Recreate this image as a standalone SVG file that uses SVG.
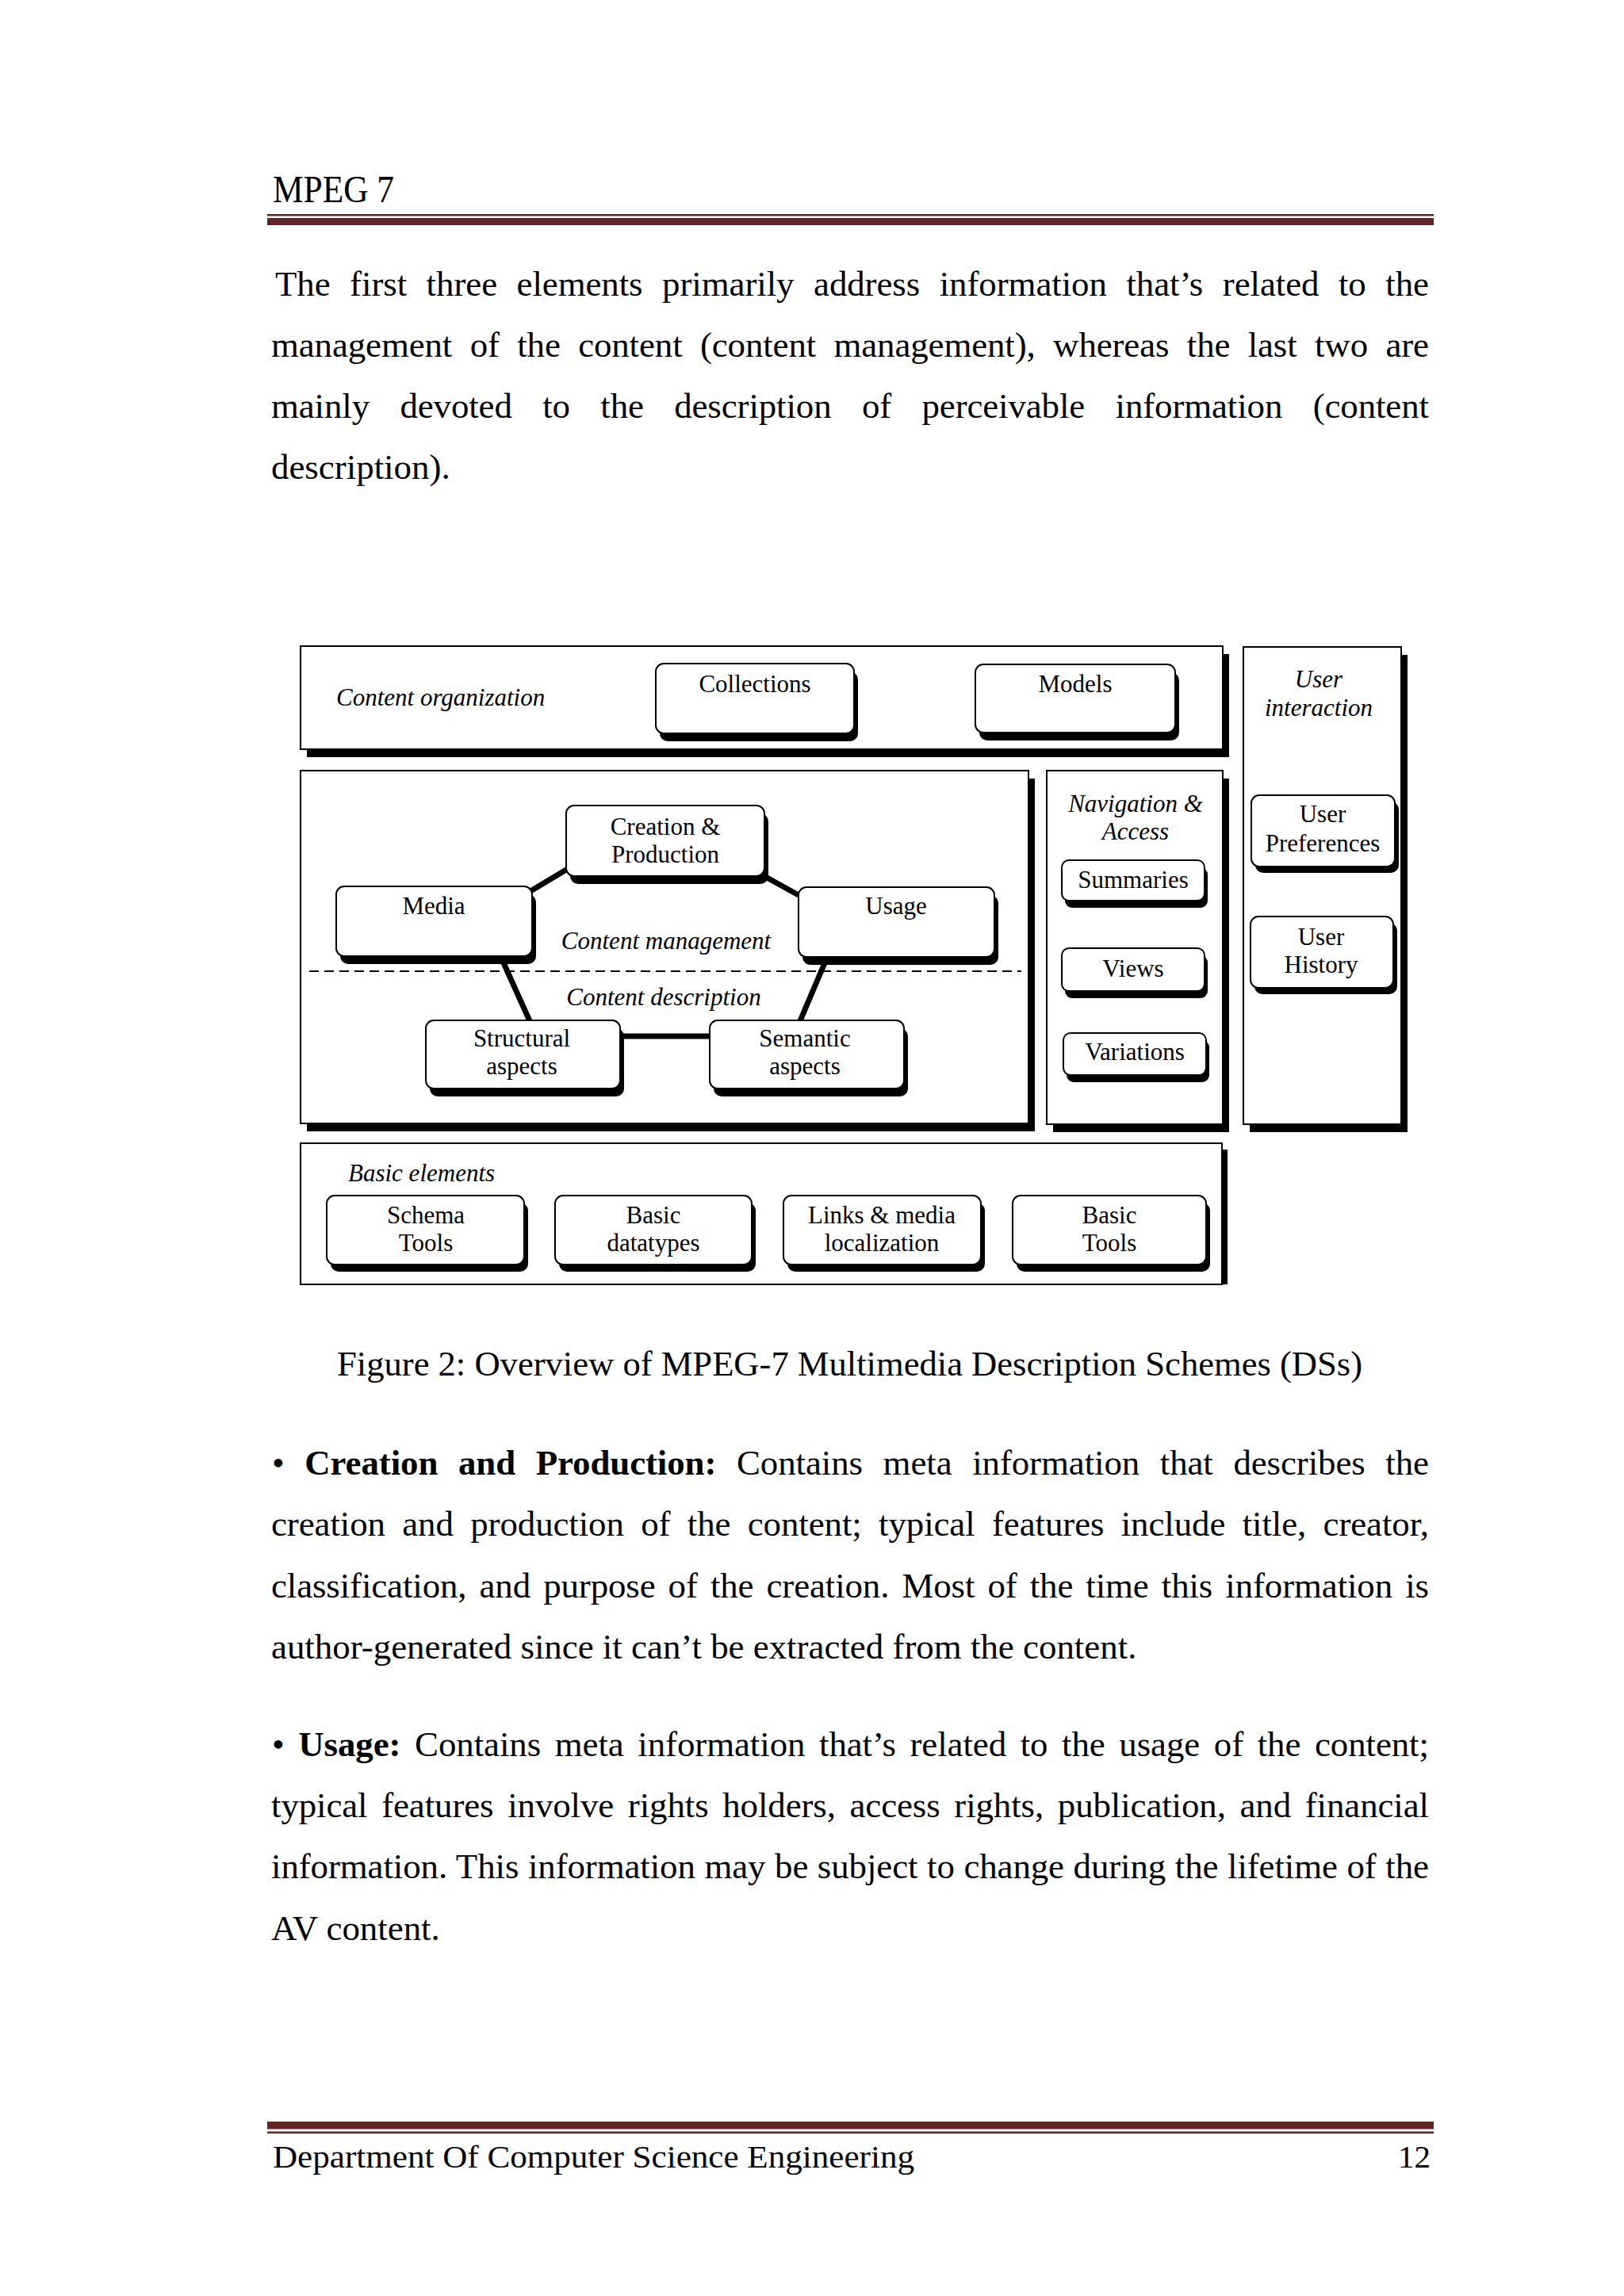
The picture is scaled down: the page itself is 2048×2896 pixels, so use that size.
<svg xmlns="http://www.w3.org/2000/svg" width="2048" height="2896" viewBox="0 0 2048 2896">
<style>
.body{font-family:"Liberation Serif","Times New Roman",serif;font-size:44.9px;fill:#000}
.cap{font-size:44.6px}
.b{font-weight:bold}
.hf{font-family:"Liberation Serif","Times New Roman",serif;fill:#000}
.lbl{font-family:"Liberation Serif","Times New Roman",serif;font-size:31px;text-anchor:middle;fill:#000}
.it{font-family:"Liberation Serif","Times New Roman",serif;font-size:31px;font-style:italic;fill:#000}
.itc{text-anchor:middle}
.panel{fill:#fff;stroke:#000;stroke-width:2}
.sh{fill:#000}
.node{fill:#fff;stroke:#000;stroke-width:2}
.conn{stroke:#000;stroke-width:7;fill:none}
.dash{stroke:#000;stroke-width:2;stroke-dasharray:12 7;fill:none}
.rule{fill:#632523}
</style>
<rect width="2048" height="2896" fill="#fff"/>

<!-- header -->
<g id="header">
<text class="hf" x="344" y="255" font-size="48" textLength="153" lengthAdjust="spacingAndGlyphs">MPEG 7</text>
<rect class="rule" x="337" y="270" width="1471" height="2.5"/>
<rect class="rule" x="337" y="275" width="1471" height="9"/>
</g>

<!-- intro paragraph -->
<g id="intro">
<text class="body" x="347" y="373" word-spacing="13.4" textLength="1455" lengthAdjust="spacing">The first three elements primarily address information that’s related to the</text>
<text class="body" x="342" y="450" word-spacing="11.3" textLength="1460" lengthAdjust="spacing">management of the content (content management), whereas the last two are</text>
<text class="body" x="342" y="527" word-spacing="27.3" textLength="1460" lengthAdjust="spacing">mainly devoted to the description of perceivable information (content</text>
<text class="body" x="342" y="604">description).</text>
</g>

<!-- diagram panels -->
<g id="panel-content-organization">
<rect class="sh" x="387" y="825" width="1163" height="130"/>
<rect class="panel" x="379" y="815" width="1163" height="130"/>
<text class="it" x="424" y="890">Content organization</text>
</g>
<g id="panel-content-management">
<rect class="sh" x="387" y="982" width="918" height="445"/>
<rect class="panel" x="379" y="972" width="918" height="445"/>
</g>
<g id="panel-navigation">
<rect class="sh" x="1328" y="982" width="222" height="446"/>
<rect class="panel" x="1320" y="972" width="222" height="446"/>
<text class="it itc" x="1432" y="1024">Navigation &amp;</text>
<text class="it itc" x="1432" y="1059">Access</text>
</g>
<g id="panel-user-interaction">
<rect class="sh" x="1576" y="826" width="199" height="602"/>
<rect class="panel" x="1568" y="816" width="199" height="602"/>
<text class="it itc" x="1663" y="867">User</text>
<text class="it itc" x="1663" y="903">interaction</text>
</g>
<g id="panel-basic-elements">
<rect class="sh" x="1541" y="1450" width="7" height="170"/>
<rect class="panel" x="379" y="1442" width="1162" height="178"/>
<text class="it" x="439" y="1490">Basic elements</text>
</g>

<!-- connectors -->
<g id="connectors">
<line class="conn" x1="719" y1="1094" x2="669" y2="1124"/>
<line class="conn" x1="960" y1="1103" x2="1007" y2="1129"/>
<line class="conn" x1="633" y1="1210" x2="669" y2="1290"/>
<line class="conn" x1="1042" y1="1210" x2="1008" y2="1290"/>
<line class="conn" x1="780" y1="1307" x2="897" y2="1307"/>
<line class="dash" x1="390" y1="1225" x2="1288" y2="1225"/>
</g>
<g id="section-labels">
<text class="it itc" x="840" y="1197">Content management</text>
<text class="it itc" x="837" y="1268">Content description</text>
</g>

<!-- nodes -->
<g id="node-collections">
<rect class="sh" x="832" y="847" width="250" height="88" rx="10"/>
<rect class="node" x="827" y="837" width="250" height="88" rx="10"/>
<text class="lbl" x="952" y="873">Collections</text>
</g>
<g id="node-models">
<rect class="sh" x="1235" y="848" width="252" height="86" rx="10"/>
<rect class="node" x="1230" y="838" width="252" height="86" rx="10"/>
<text class="lbl" x="1356" y="873">Models</text>
</g>
<g id="node-creation">
<rect class="sh" x="719" y="1026" width="250" height="89" rx="10"/>
<rect class="node" x="714" y="1016" width="250" height="89" rx="10"/>
<text class="lbl" x="839" y="1053">Creation &amp;</text>
<text class="lbl" x="839" y="1088">Production</text>
</g>
<g id="node-media">
<rect class="sh" x="429" y="1128" width="247" height="88" rx="10"/>
<rect class="node" x="424" y="1118" width="247" height="88" rx="10"/>
<text class="lbl" x="547" y="1153">Media</text>
</g>
<g id="node-usage">
<rect class="sh" x="1012" y="1129" width="247" height="88" rx="10"/>
<rect class="node" x="1007" y="1119" width="247" height="88" rx="10"/>
<text class="lbl" x="1130" y="1153">Usage</text>
</g>
<g id="node-structural">
<rect class="sh" x="542" y="1297" width="245" height="86" rx="10"/>
<rect class="node" x="537" y="1287" width="245" height="86" rx="10"/>
<text class="lbl" x="658" y="1320">Structural</text>
<text class="lbl" x="658" y="1355">aspects</text>
</g>
<g id="node-semantic">
<rect class="sh" x="900" y="1297" width="245" height="86" rx="10"/>
<rect class="node" x="895" y="1287" width="245" height="86" rx="10"/>
<text class="lbl" x="1015" y="1320">Semantic</text>
<text class="lbl" x="1015" y="1355">aspects</text>
</g>
<g id="node-summaries">
<rect class="sh" x="1343" y="1094" width="180" height="51" rx="9"/>
<rect class="node" x="1339" y="1085" width="180" height="51" rx="9"/>
<text class="lbl" x="1429" y="1120">Summaries</text>
</g>
<g id="node-views">
<rect class="sh" x="1343" y="1205" width="180" height="54" rx="9"/>
<rect class="node" x="1339" y="1196" width="180" height="54" rx="9"/>
<text class="lbl" x="1429" y="1232">Views</text>
</g>
<g id="node-variations">
<rect class="sh" x="1345" y="1312" width="180" height="53" rx="9"/>
<rect class="node" x="1341" y="1303" width="180" height="53" rx="9"/>
<text class="lbl" x="1431" y="1337">Variations</text>
</g>
<g id="node-user-preferences">
<rect class="sh" x="1583" y="1011" width="181" height="90" rx="10"/>
<rect class="node" x="1578" y="1003" width="181" height="90" rx="10"/>
<text class="lbl" x="1668" y="1037">User</text>
<text class="lbl" x="1668" y="1074">Preferences</text>
</g>
<g id="node-user-history">
<rect class="sh" x="1582" y="1164" width="180" height="90" rx="10"/>
<rect class="node" x="1577" y="1156" width="180" height="90" rx="10"/>
<text class="lbl" x="1666" y="1192">User</text>
<text class="lbl" x="1666" y="1227">History</text>
</g>
<g id="node-schema-tools">
<rect class="sh" x="417" y="1517" width="249" height="87" rx="10"/>
<rect class="node" x="412" y="1508" width="249" height="87" rx="10"/>
<text class="lbl" x="537" y="1543">Schema</text>
<text class="lbl" x="537" y="1578">Tools</text>
</g>
<g id="node-basic-datatypes">
<rect class="sh" x="705" y="1517" width="248" height="87" rx="10"/>
<rect class="node" x="700" y="1508" width="248" height="87" rx="10"/>
<text class="lbl" x="824" y="1543">Basic</text>
<text class="lbl" x="824" y="1578">datatypes</text>
</g>
<g id="node-links-media">
<rect class="sh" x="993" y="1517" width="249" height="87" rx="10"/>
<rect class="node" x="988" y="1508" width="249" height="87" rx="10"/>
<text class="lbl" x="1112" y="1543">Links &amp; media</text>
<text class="lbl" x="1112" y="1578">localization</text>
</g>
<g id="node-basic-tools">
<rect class="sh" x="1282" y="1517" width="244" height="87" rx="10"/>
<rect class="node" x="1277" y="1508" width="244" height="87" rx="10"/>
<text class="lbl" x="1399" y="1543">Basic</text>
<text class="lbl" x="1399" y="1578">Tools</text>
</g>

<!-- caption -->
<g id="caption">
<text class="body cap" x="425" y="1735">Figure 2: Overview of MPEG-7 Multimedia Description Schemes (DSs)</text>
</g>

<!-- bullet 1 -->
<g id="bullet-creation">
<text class="body" x="343" y="1860" word-spacing="14.5" textLength="1459" lengthAdjust="spacing">• <tspan class="b">Creation and Production:</tspan> Contains meta information that describes the</text>
<text class="body" x="342" y="1937" word-spacing="10.2" textLength="1460" lengthAdjust="spacing">creation and production of the content; typical features include title, creator,</text>
<text class="body" x="342" y="2015" word-spacing="5.0" textLength="1460" lengthAdjust="spacing">classification, and purpose of the creation. Most of the time this information is</text>
<text class="body" x="342" y="2092">author-generated since it can’t be extracted from the content.</text>
</g>

<!-- bullet 2 -->
<g id="bullet-usage">
<text class="body" x="343" y="2215" word-spacing="6.5" textLength="1459" lengthAdjust="spacing">• <tspan class="b">Usage:</tspan> Contains meta information that’s related to the usage of the content;</text>
<text class="body" x="342" y="2292" word-spacing="6.6" textLength="1460" lengthAdjust="spacing">typical features involve rights holders, access rights, publication, and financial</text>
<text class="body" x="342" y="2369" word-spacing="0.5" textLength="1460" lengthAdjust="spacing">information. This information may be subject to change during the lifetime of the</text>
<text class="body" x="342" y="2447">AV content.</text>
</g>

<!-- footer -->
<g id="footer">
<rect class="rule" x="337" y="2676" width="1471" height="9.5"/>
<rect class="rule" x="337" y="2688.5" width="1471" height="2.5"/>
<text class="hf" x="344" y="2734" font-size="41" textLength="809" lengthAdjust="spacingAndGlyphs">Department Of Computer Science Engineering</text>
<text class="hf" x="1804" y="2734" font-size="41" text-anchor="end">12</text>
</g>
</svg>
